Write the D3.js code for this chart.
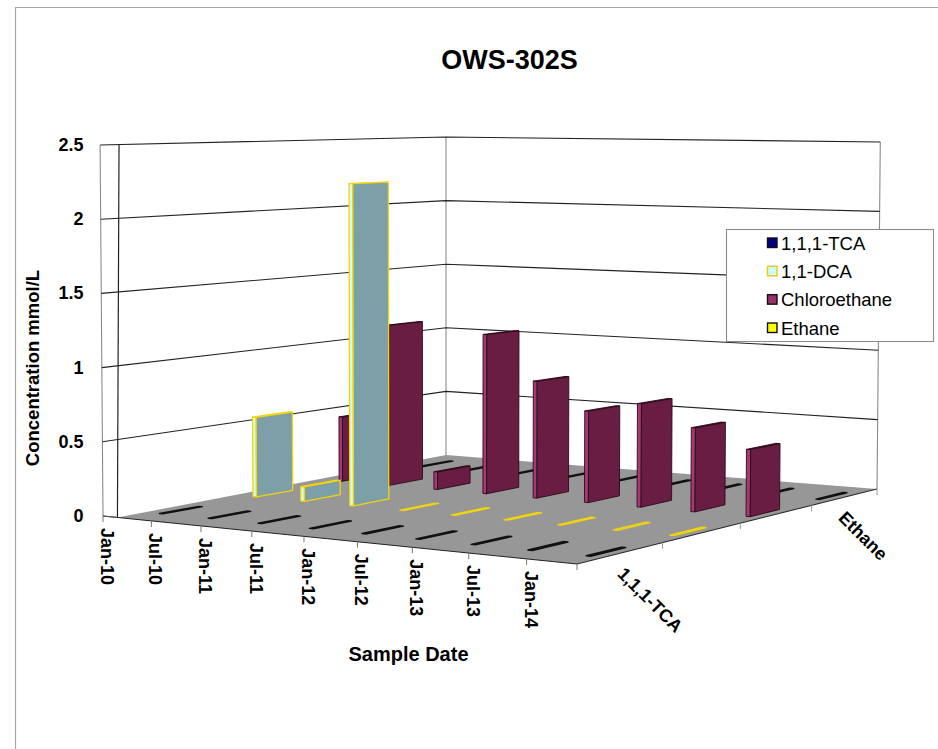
<!DOCTYPE html>
<html>
<head>
<meta charset="utf-8">
<script src="https://cdn.jsdelivr.net/npm/d3@7"></script>
<style>
  html, body { margin: 0; padding: 0; background: #fff; }
  svg { display: block; }
  text { font-family: "Liberation Sans", Arial, sans-serif; fill: #000; }
</style>
</head>
<body>
<svg id="chart" width="938" height="749"></svg>
<script>
// Chart content
const chartTitle = "OWS-302S";
const yTitle = "Concentration mmol/L";
const xTitle = "Sample Date";
const dateLabels = ["Jan-10", "Jul-10", "Jan-11", "Jul-11", "Jan-12", "Jul-12", "Jan-13", "Jul-13", "Jan-14"];
const seriesNames = ["1,1,1-TCA", "1,1-DCA", "Chloroethane", "Ethane"];
const depthLabels = ["1,1,1-TCA", "Ethane"];
const yTicks = [0, 0.5, 1, 1.5, 2, 2.5];

// Concentrations in mmol/L per sample date
const tcaValues = [0, 0, 0, 0, 0, 0, 0, 0, 0];
const dcaValues = [0.56, 0.1, 2.22, 0, 0, 0, 0, 0, 0];
const chloroethaneValues = [0.47, 1.16, 0.125, 1.13, 0.82, 0.635, 0.71, 0.57, 0.45];
const ethaneValues = [0, 0, 0, 0, 0, 0, 0, 0, 0];
const seriesValues = [tcaValues, dcaValues, chloroethaneValues, ethaneValues];

const seriesStyle = [
  { swatch: "#000080", face: "#000060", side: "#000080", top: "#000060", stroke: "#111111", width: 1.4 },
  { swatch: "#ccffff", face: "#7c9fa8", side: "#d4fbf6", top: "#9fc5c8", stroke: "#f2d40a", width: 1.3 },
  { swatch: "#993366", face: "#6a1d42", side: "#a53a72", top: "#521433", stroke: "#2a0a1c", width: 0.9 },
  { swatch: "#ffff00", face: "#999900", side: "#ffff00", top: "#cccc00", stroke: "#111111", width: 1.4 }
];

// Floor corners on screen: front-left, front-right, back-right, back-left
const floorQuad = [[103, 516], [577, 564], [877, 489], [446, 455]];
// Pixel height of the full value range above each of those corners
const cornerHeights = [371, 416, 347, 318];
// Slight outward lean of the verticals, per pixel away from the back corner
const leanPerPixel = 0.0085;

// Maps the unit square onto a quadrilateral
function squareToQuad(q) {
  const [p0, p1, p2, p3] = q;
  const sx = p0[0] - p1[0] + p2[0] - p3[0], sy = p0[1] - p1[1] + p2[1] - p3[1];
  const dx1 = p1[0] - p2[0], dx2 = p3[0] - p2[0], dy1 = p1[1] - p2[1], dy2 = p3[1] - p2[1];
  const det = dx1 * dy2 - dx2 * dy1;
  const g = (sx * dy2 - dx2 * sy) / det, h = (dx1 * sy - sx * dy1) / det;
  const a = p1[0] - p0[0] + g * p1[0], b = p3[0] - p0[0] + h * p3[0], c = p0[0];
  const d = p1[1] - p0[1] + g * p1[1], e = p3[1] - p0[1] + h * p3[1], f = p0[1];
  return (u, v) => {
    const w = 1 + g * u + h * v;
    return [(a * u + b * v + c) / w, (d * u + e * v + f) / w];
  };
}
const onFloor = squareToQuad(floorQuad);

// The date axis stops a little short of a ninth full slot
const axisSlots = 8.85;
const xScale = d3.scaleLinear().domain([0, axisSlots]).range([0, 1]);
const depthScale = d3.scaleBand().domain(seriesNames).range([0, 1]);
const yScale = d3.scaleLinear().domain([0, 2.5]).range([0, 1]);

// Reciprocal height is linear across the floor under perspective
function fullHeight(u, v) {
  const [a, b, c, d] = cornerHeights.map(h => 1 / h);
  return 1 / ((a * (1 - u) + b * u) * (1 - v) + (d * (1 - u) + c * u) * v);
}

// u runs along the date axis, v into the depth, value is the concentration
function project(u, v, value) {
  const base = onFloor(u, v), t = yScale(value);
  const dx = (base[0] - 446) * leanPerPixel * t * (base[0] < 446 ? 1 : 0.9);
  return [base[0] + dx, base[1] - fullHeight(u, v) * t];
}

const svg = d3.select("#chart");
const line = d3.line();
const closed = pts => line(pts) + "Z";

// Outer chart frame: runs off the right and bottom of the page
svg.append("path").attr("d", "M15.5,760V7.5H945").attr("fill", "none").attr("stroke", "#a6a6a6").attr("stroke-width", 1.2);

svg.append("text").attr("x", 509.5).attr("y", 69).attr("text-anchor", "middle")
  .attr("font-size", 27).attr("font-weight", "bold").text(chartTitle);

const walls = svg.append("g");
const wallInset = 0.034;

// Floor
walls.append("path")
  .attr("d", closed([onFloor(wallInset, 0), onFloor(1, 0), onFloor(1, 1), onFloor(0, 1)]))
  .attr("fill", "#979797");

// Vertical box edges
[[0, 0], [0, 1], [1, 1]].forEach(([u, v]) => {
  walls.append("path").attr("d", line([project(u, v, 0), project(u, v, 2.5)]))
    .attr("fill", "none").attr("stroke", "#8a8a8a").attr("stroke-width", 1.1);
});
// Value axis line at the inner wall edge
walls.append("path").attr("d", line([onFloor(wallInset, 0), project(0, 0.047, 2.5)]))
  .attr("fill", "none").attr("stroke", "#222").attr("stroke-width", 1.2);

// Gridlines on the two walls
yTicks.filter(d => d > 0).forEach(d => {
  walls.append("path").attr("d", line([project(0, 0, d), project(0, 1, d), project(1, 1, d)]))
    .attr("fill", "none").attr("stroke", "#222").attr("stroke-width", 1.1);
});

// Floor edges
walls.append("path").attr("d", line([onFloor(0, 0), onFloor(1, 0), onFloor(1, 1)]))
  .attr("fill", "none").attr("stroke", "#222").attr("stroke-width", 1);
walls.append("path").attr("d", line([onFloor(0, 0), onFloor(wallInset, 0)]))
  .attr("fill", "none").attr("stroke", "#555").attr("stroke-width", 1);

// Date ticks along the front edge, plus one closing the axis
dateLabels.map((d, i) => xScale(i)).concat([1]).forEach(u => {
  const p = onFloor(u, 0);
  walls.append("path").attr("d", line([p, [p[0], p[1] + 6]])).attr("stroke", "#777").attr("fill", "none");
});
// Series ticks along the right edge
d3.range(1, seriesNames.length + 1).forEach(i => {
  const p = onFloor(1, i / seriesNames.length);
  walls.append("path").attr("d", line([p, [p[0], p[1] + 6]])).attr("stroke", "#999").attr("fill", "none");
});

// Bars: thin along the date axis, wide along the depth axis
const barThickness = 0.0085;
const barCentre = 0.64;
const barDepth = 0.41;
const bars = svg.append("g");

d3.range(seriesNames.length - 1, -1, -1).forEach(si => {
  const name = seriesNames[si], style = seriesStyle[si];
  const v0 = depthScale(name) + depthScale.bandwidth() * (1 - barDepth) / 2;
  const v1 = v0 + depthScale.bandwidth() * barDepth;
  seriesValues[si].forEach((value, i) => {
    const u1 = xScale(i + barCentre), u0 = u1 - barThickness;
    const g = bars.append("g").attr("stroke", style.stroke).attr("stroke-width", style.width).attr("stroke-linejoin", "round");
    g.append("path").attr("d", closed([project(u0, v0, value), project(u1, v0, value), project(u1, v1, value), project(u0, v1, value)]))
      .attr("fill", style.top);
    if (value > 0) {
      g.append("path").attr("d", closed([project(u0, v0, 0), project(u1, v0, 0), project(u1, v0, value), project(u0, v0, value)]))
        .attr("fill", style.side);
      g.append("path").attr("d", closed([project(u1, v0, 0), project(u1, v1, 0), project(u1, v1, value), project(u1, v0, value)]))
        .attr("fill", style.face);
    }
  });
});

// Value axis labels
yTicks.forEach(d => {
  const p = project(0, 0, d);
  svg.append("text").attr("x", 83.5).attr("y", p[1] + 6).attr("text-anchor", "end")
    .attr("font-size", 18).attr("font-weight", "bold").text(d);
});

// Date labels, read top to bottom
dateLabels.forEach((label, i) => {
  const p = onFloor(xScale(i), 0);
  svg.append("text").attr("transform", `translate(${p[0] - 2},${p[1] + 12}) rotate(90)`)
    .attr("font-size", 18).attr("font-weight", "bold").text(label);
});

// Series labels on the depth axis
svg.append("text").attr("transform", "translate(650,600) rotate(45)").attr("text-anchor", "middle").attr("dy", 6)
  .attr("font-size", 18).attr("font-weight", "bold").text(depthLabels[0]);
svg.append("text").attr("transform", "translate(863,536) rotate(45)").attr("text-anchor", "middle").attr("dy", 6)
  .attr("font-size", 18).attr("font-weight", "bold").text(depthLabels[1]);

// Axis titles
svg.append("text").attr("transform", "translate(39,368) rotate(-90)").attr("text-anchor", "middle")
  .attr("font-size", 18.5).attr("font-weight", "bold").text(yTitle);
svg.append("text").attr("x", 408.5).attr("y", 661).attr("text-anchor", "middle")
  .attr("font-size", 20).attr("font-weight", "bold").text(xTitle);

// Legend
const legend = svg.append("g");
legend.append("rect").attr("x", 726.5).attr("y", 229.5).attr("width", 207).attr("height", 112)
  .attr("fill", "#fff").attr("stroke", "#8c8c8c").attr("stroke-width", 1.1);
const legendY = d3.scalePoint().domain(seriesNames).range([243, 328]);
seriesNames.forEach((name, i) => {
  const y = legendY(name);
  legend.append("rect").attr("x", 767.5).attr("y", y - 5).attr("width", 9.5).attr("height", 9.5)
    .attr("fill", seriesStyle[i].swatch)
    .attr("stroke", i === 1 ? "#f2c80a" : "#111").attr("stroke-width", 1.4);
  legend.append("text").attr("x", 781).attr("y", y + 6.5).attr("font-size", 18.5).text(name);
});
</script>
</body>
</html>
